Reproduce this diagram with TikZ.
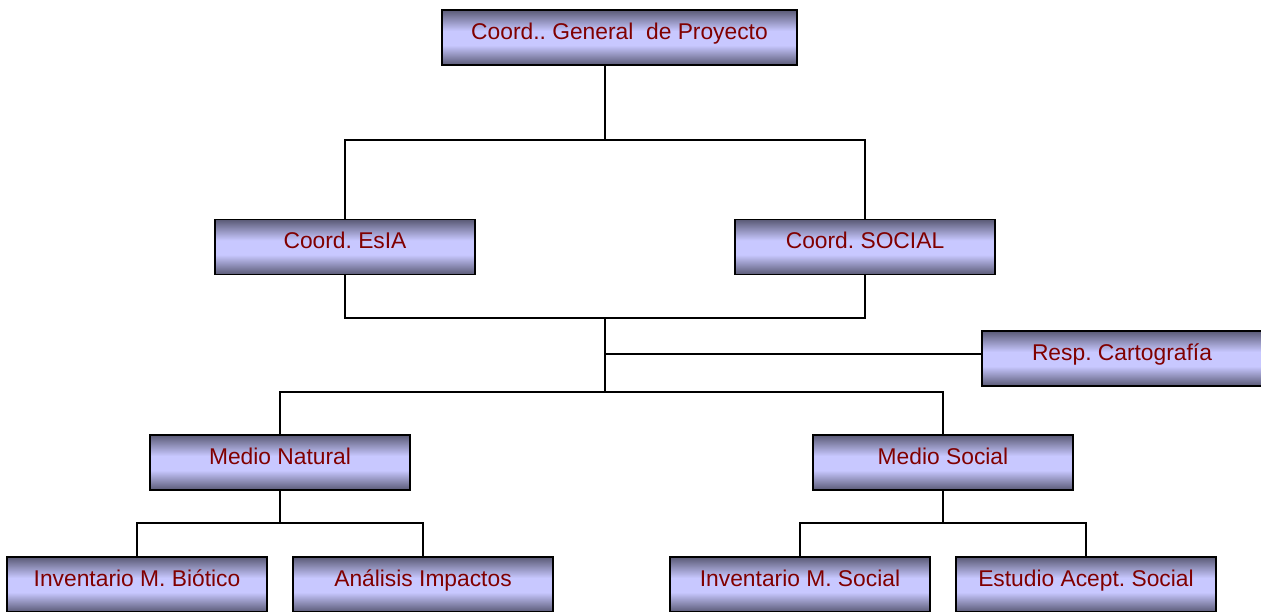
\documentclass[tikz,border=0pt]{standalone}
\usepackage{fontspec}
\setmainfont{Liberation Sans}
\frenchspacing
\definecolor{boxdark}{RGB}{90,90,118}
\definecolor{boxlight}{RGB}{200,200,255}
\definecolor{boxtext}{RGB}{128,0,0}
\pgfdeclareverticalshading{boxshade}{100bp}{color(0bp)=(boxdark); color(25bp)=(boxdark);
  color(43bp)=(boxlight); color(56bp)=(boxlight); color(75bp)=(boxdark); color(100bp)=(boxdark)}
\tikzset{
  orgbox/.style={draw=black, line width=1.2pt, shading=boxshade, inner sep=0pt,
    minimum width=260pt, minimum height=55pt, text height=16pt, text depth=13pt,
    text=boxtext, font=\fontsize{22.8}{27}\selectfont},
  link/.style={line width=1.3pt}
}
\begin{document}
\begin{tikzpicture}[x=1pt,y=-1pt]
  \clip (0,0) rectangle (1261,611);
  \useasboundingbox (0,0) rectangle (1261,611);

  % Boxes
  \node[orgbox, minimum width=355pt] (gral) at (619.5,37.5) {Coord.. General\ \ de Proyecto};
  \node[orgbox] (esia)   at (345,247) {Coord. EsIA};
  \node[orgbox] (social) at (865,247) {Coord. SOCIAL};
  \node[orgbox, minimum width=280pt] (carto) at (1122,358.5) {Resp. Cartografía};
  \node[orgbox] (natural) at (280,462.5) {Medio Natural};
  \node[orgbox] (msocial) at (943,462.5) {Medio Social};
  \node[orgbox] (biotico)   at (137,584.5)  {Inventario M. Biótico};
  \node[orgbox] (impactos)  at (423,584.5)  {Análisis Impactos};
  \node[orgbox] (invsocial) at (800,584.5)  {Inventario M. Social};
  \node[orgbox] (acept)     at (1086,584.5) {Estudio Acept. Social};

  % Junctions
  \coordinate (j1) at (605,140);
  \coordinate (j2) at (605,318);
  \coordinate (j3) at (605,354);
  \coordinate (j4) at (605,392);
  \coordinate (j5) at (280,523);
  \coordinate (j6) at (943,523);

  % Connectors
  \draw[link] (j1 |- gral.south) -- (j1);
  \draw[link] (esia.north) |- (j1) -| (social.north);
  \draw[link] (esia.south) |- (j2) -| (social.south);
  \draw[link] (j2) -- (j4);
  \draw[link] (j3) -- (j3 -| carto.west);
  \draw[link] (natural.north) |- (j4) -| (msocial.north);
  \draw[link, line width=2pt] (natural.south) -- (j5);
  \draw[link] (biotico.north) |- (j5) -| (impactos.north);
  \draw[link, line width=2pt] (msocial.south) -- (j6);
  \draw[link] (invsocial.north) |- (j6) -| (acept.north);
\end{tikzpicture}
\end{document}
